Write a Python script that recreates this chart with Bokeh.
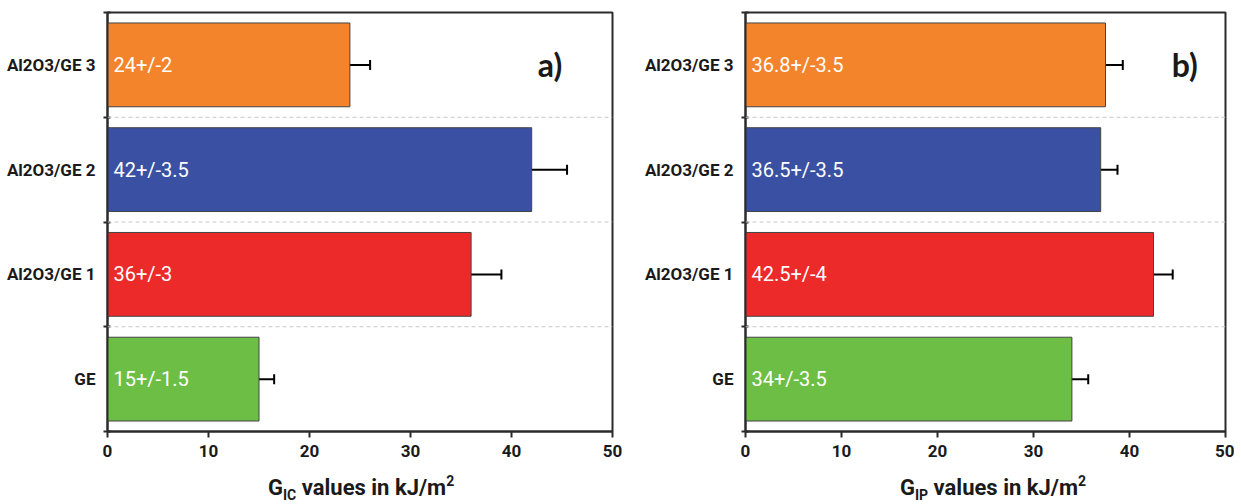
from bokeh.plotting import figure
from bokeh.models import (Range1d, FixedTicker, Whisker, ColumnDataSource, Label,
                          TeeHead, Span, Div)
from bokeh.layouts import row, column
from bokeh.embed import file_html
from bokeh.resources import INLINE
from bokeh.core.properties import value

# ---- data ----
categories = ["GE", "Al2O3/GE 1", "Al2O3/GE 2", "Al2O3/GE 3"]
bar_colors = ["#6dbe45", "#ec2a2a", "#3a51a3", "#f4842c"]
gic_values = [15, 36, 42, 24]
gic_errors = [1.5, 3.0, 3.5, 2.0]
gic_labels = ["15+/-1.5", "36+/-3", "42+/-3.5", "24+/-2"]
gip_values = [34, 42.5, 37, 37.5]
gip_errors = [1.7, 2.0, 1.75, 1.8]
gip_labels = ["34+/-3.5", "42.5+/-4", "36.5+/-3.5", "36.8+/-3.5"]
x_ticks = [0, 10, 20, 30, 40, 50]
panel_tags = ["a)", "b)"]
subscripts = ["IC", "IP"]

FONT = "Roboto"
DARK = "#2b2b2b"
FIG_H = 466


def make_panel(vals, errs, labels, tag, width, bl, br, tag_x):
    n = len(categories)
    pos = [i + 0.5 for i in range(n)]
    src = ColumnDataSource(dict(
        y=pos, v=vals, lo=[v - e for v, e in zip(vals, errs)],
        hi=[v + e for v, e in zip(vals, errs)], color=bar_colors, txt=labels))
    p = figure(width=width, height=FIG_H, x_range=Range1d(0, 50), y_range=Range1d(0, n),
               output_backend="svg", toolbar_location=None,
               min_border_left=bl, min_border_right=br, min_border_top=12,
               min_border_bottom=FIG_H - 12 - 419)
    p.background_fill_color = "white"
    p.border_fill_color = "white"
    p.grid.visible = False
    p.outline_line_color = DARK
    p.outline_line_width = 2

    for loc in range(1, n):
        p.add_layout(Span(location=loc, dimension="width", line_color="#c8c8c8",
                          line_width=1, line_dash="4 3"))

    p.hbar(y="y", right="v", left=0, height=0.8, source=src, fill_color="color",
           line_color="#444444", line_width=1)
    p.add_layout(Whisker(source=src, base="y", lower="lo", upper="hi",
                         dimension="width", line_color="black", line_width=2,
                         upper_head=TeeHead(size=10, line_width=2, line_color="black"),
                         lower_head=TeeHead(size=10, line_width=2, line_color="black")))
    p.text(x=0, y="y", text="txt", source=src, x_offset=6, text_baseline="middle",
           text_align="left", text_color="white", text_font=value(FONT),
           text_font_size="20px")

    # y axis
    ya = p.yaxis[0]
    ya.ticker = FixedTicker(ticks=pos, minor_ticks=list(range(n + 1)))
    ya.major_label_overrides = {pv: c for pv, c in zip(pos, categories)}
    ya.major_tick_line_color = None
    ya.major_tick_out = 0
    ya.major_tick_in = 0
    ya.minor_tick_in = 3
    ya.minor_tick_out = 4
    ya.minor_tick_line_color = DARK
    ya.minor_tick_line_width = 2
    ya.axis_line_color = DARK
    ya.axis_line_width = 2
    ya.major_label_standoff = 8
    ya.major_label_text_font = FONT
    ya.major_label_text_font_style = "bold"
    ya.major_label_text_font_size = "17px"
    ya.major_label_text_color = "#1a1a1a"

    # x axis
    xa = p.xaxis[0]
    xa.ticker = FixedTicker(ticks=x_ticks)
    xa.major_tick_out = 6
    xa.major_tick_in = 0
    xa.major_tick_line_width = 2
    xa.major_tick_line_color = DARK
    xa.minor_tick_line_color = None
    xa.axis_line_color = DARK
    xa.axis_line_width = 2
    xa.major_label_standoff = 7
    xa.major_label_text_font = FONT
    xa.major_label_text_font_style = "bold"
    xa.major_label_text_font_size = "17px"
    xa.major_label_text_color = "#1a1a1a"

    # panel tag
    p.add_layout(Label(x=tag_x, y=3.5, text=tag, text_baseline="middle",
                       text_font="Lato", text_font_style="bold", text_font_size="32px",
                       text_color="#1a1a1a"))
    return p


def axis_title(sub, width, pad_left):
    html = (
        f'<div style="margin:0;padding:10px 0 0 {pad_left}px;font-family:Roboto;'
        f'font-weight:bold;font-size:22px;line-height:24px;color:#1a1a1a;white-space:nowrap">'
        f'G<span style="font-size:14px;position:relative;top:5px">{sub}</span>'
        f' values in kJ/m<span style="font-size:14px;position:relative;top:-9px">2</span></div>'
    )
    return Div(text=html, width=width, height=36, margin=(0, 0, 0, 0))


p1 = make_panel(gic_values, gic_errors, gic_labels, panel_tags[0], 640, 107, 28, 42.6)
p2 = make_panel(gip_values, gip_errors, gip_labels, panel_tags[1], 594, 105, 9, 44.4)
d1 = axis_title(subscripts[0], 640, 268)
d2 = axis_title(subscripts[1], 594, 260)

layout = column(row(p1, p2), row(d1, d2))
open("out.html", "w").write(file_html(layout, INLINE))
